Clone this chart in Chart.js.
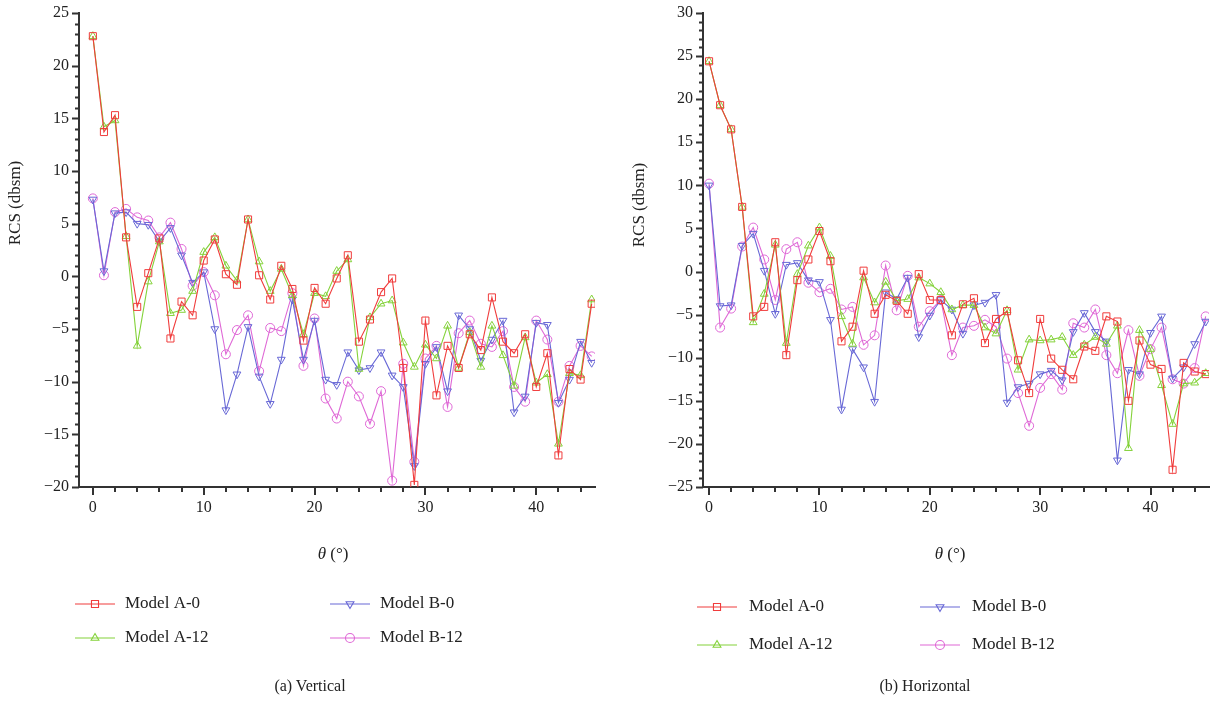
<!DOCTYPE html>
<html>
<head>
<meta charset="utf-8">
<script src="https://cdn.jsdelivr.net/npm/chart.js@4.4.1/dist/chart.umd.min.js"></script>
<style>
  body { margin: 0; background: #fff; width: 1229px; height: 701px; position: relative; overflow: hidden; font-family: "Liberation Serif", serif; }
  canvas { position: absolute; top: 0; }
  .cap { position: absolute; top: 677px; font-size: 16px; color: #222; transform: translateX(-50%); white-space: nowrap; }
</style>
</head>
<body>
<canvas id="vert" width="614" height="701" style="left:0"></canvas>
<canvas id="horiz" width="603" height="701" style="left:626px"></canvas>
<div class="cap" style="left:310px">(a) Vertical</div>
<div class="cap" style="left:925px">(b) Horizontal</div>

<script>
// incidence angle, degrees
const theta = [0, 1, 2, 3, 4, 5, 6, 7, 8, 9, 10, 11, 12, 13, 14, 15, 16, 17, 18, 19, 20, 21, 22,
  23, 24, 25, 26, 27, 28, 29, 30, 31, 32, 33, 34, 35, 36, 37, 38, 39, 40, 41, 42, 43, 44, 45];

// (a) vertical polarisation, RCS in dBsm
const vertA0 = [22.8, 13.7, 15.3, 3.7, -2.9, 0.3, 3.6, -5.9, -2.4, -3.7, 1.5, 3.5, 0.2, -0.8, 5.4, 0.1,
  -2.2, 1.0, -1.2, -6.1, -1.1, -2.6, -0.2, 2.0, -6.2, -4.1, -1.5, -0.2, -8.7, -19.8, -4.2, -11.3,
  -6.6, -8.7, -5.5, -7.0, -2.0, -6.2, -7.3, -5.5, -10.5, -7.3, -17.0, -8.8, -9.8, -2.6];
const vertA12 = [22.8, 14.2, 14.8, 3.8, -6.6, -0.5, 3.3, -3.5, -3.2, -1.4, 2.3, 3.7, 1.0, -0.4, 5.4, 1.4,
  -1.4, 0.7, -1.8, -5.5, -1.6, -1.9, 0.5, 1.6, -8.8, -3.9, -2.6, -2.3, -6.3, -8.6, -6.5, -7.8,
  -4.7, -8.7, -5.3, -8.6, -4.7, -7.5, -10.4, -5.8, -10.1, -9.3, -15.9, -9.2, -9.4, -2.2];
const vertB0 = [7.3, 0.5, 6.0, 6.1, 5.0, 4.9, 3.3, 4.6, 2.0, -0.6, 0.4, -5.0, -12.7, -9.3, -4.8, -9.5,
  -12.1, -7.9, -2.2, -7.9, -4.2, -9.8, -10.3, -7.2, -8.9, -8.7, -7.2, -9.4, -10.5, -18.0, -8.3, -6.7,
  -10.9, -3.7, -5.0, -8.0, -6.0, -4.2, -12.9, -11.4, -4.4, -4.6, -12.0, -9.8, -6.2, -8.2];
const vertB12 = [7.4, 0.1, 6.1, 6.4, 5.6, 5.3, 3.7, 5.1, 2.6, -0.9, 0.4, -1.8, -7.4, -5.1, -3.7, -9.0,
  -4.9, -5.2, -1.6, -8.5, -4.0, -11.6, -13.5, -10.0, -11.4, -14.0, -10.9, -19.4, -8.3, -17.6, -7.8, -6.6,
  -12.4, -5.4, -4.2, -6.4, -6.7, -5.2, -10.5, -11.9, -4.2, -6.0, -11.9, -8.5, -6.6, -7.6];

// (b) horizontal polarisation
const horA0 = [24.4, 19.3, 16.5, 7.5, -5.2, -4.1, 3.4, -9.7, -1.0, 1.4, 4.7, 1.2, -8.1, -6.4, 0.1, -4.9,
  -2.7, -3.4, -4.9, -0.3, -3.3, -3.3, -7.4, -3.8, -3.1, -8.3, -5.5, -4.6, -10.3, -14.1, -5.5, -10.1,
  -11.4, -12.5, -8.7, -9.2, -5.2, -5.8, -15.0, -8.0, -10.8, -11.3, -23.0, -10.6, -11.6, -11.9];
const horA12 = [24.4, 19.3, 16.5, 7.5, -5.9, -2.6, 3.1, -8.3, -0.3, 3.0, 5.1, 1.8, -5.2, -8.4, -0.7, -3.6,
  -1.2, -3.4, -3.2, -0.7, -1.4, -2.4, -4.4, -3.9, -3.9, -6.5, -7.2, -4.5, -11.4, -7.9, -8.0, -7.9,
  -7.6, -9.7, -8.5, -7.6, -8.4, -6.3, -20.5, -6.8, -9.0, -13.2, -17.7, -13.0, -12.9, -11.8];
const horB0 = [10.0, -4.0, -3.9, 3.0, 4.4, 0.1, -4.9, 0.8, 1.0, -1.0, -1.2, -5.6, -16.0, -9.0, -11.1, -15.1,
  -2.4, -3.2, -0.7, -7.6, -5.1, -3.3, -4.4, -7.2, -3.9, -3.6, -2.7, -15.2, -13.4, -13.0, -11.9, -11.5,
  -12.6, -7.0, -4.8, -7.0, -8.1, -21.9, -11.4, -11.9, -7.1, -5.2, -12.4, -11.1, -8.4, -5.8];
const horB12 = [10.2, -6.5, -4.3, 2.9, 5.1, 1.4, -3.3, 2.6, 3.4, -1.3, -2.4, -2.0, -4.4, -4.1, -8.5, -7.4,
  0.7, -4.5, -0.5, -6.4, -4.6, -3.3, -9.7, -6.5, -6.3, -5.6, -6.4, -10.1, -14.1, -17.9, -13.5, -11.9,
  -13.7, -6.0, -6.5, -4.4, -9.7, -11.8, -6.8, -12.1, -9.0, -6.5, -12.5, -13.0, -11.2, -5.2];

const seriesNames = ['Model A-0', 'Model A-12', 'Model B-0', 'Model B-12'];

const SERIF = '"Liberation Serif", "DejaVu Serif", serif';
const RED = '#f03c3c', GREEN = '#84d23a', BLUE = '#6868d6', PINK = '#df68d6';

const line = (label, values, color, style, rot, r) => ({
  label,
  data: values.map((v, i) => ({ x: theta[i], y: v })),
  borderColor: color,
  borderWidth: 1.1,
  pointStyle: style,
  pointRotation: rot,
  pointRadius: r,
  pointBorderColor: color,
  pointBorderWidth: 1,
  pointBackgroundColor: 'rgba(255,255,255,0)',
  backgroundColor: 'rgba(255,255,255,0)',
  tension: 0
});

const minus = v => (v < 0 ? '\u2212' + Math.abs(v) : '' + v);

// ticks with long majors / short minors, axis titles and the 2x2 legend
const deco = {
  id: 'deco',
  afterDraw(chart, args, o) {
    const { ctx, chartArea: a, scales: { x, y } } = chart;
    ctx.save();
    ctx.strokeStyle = '#333';
    ctx.lineWidth = 2;
    ctx.beginPath();
    x.ticks.forEach(t => {
      if (Math.abs(t.value % 2) > 1e-6) return;
      const p = Math.round(x.getPixelForValue(t.value));
      ctx.moveTo(p, a.bottom);
      ctx.lineTo(p, a.bottom + (t.value % 10 === 0 ? 8 : 5));
    });
    y.ticks.forEach(t => {
      if (Math.abs(t.value % 1) > 1e-6) return;
      const p = Math.round(y.getPixelForValue(t.value)) + 0.5;
      ctx.moveTo(a.left, p);
      ctx.lineTo(a.left - (t.value % 5 === 0 ? 7 : 4), p);
    });
    ctx.stroke();

    ctx.fillStyle = '#222';
    ctx.textBaseline = 'middle';

    // y title
    ctx.save();
    ctx.translate(o.yTitle[0], o.yTitle[1]);
    ctx.rotate(-Math.PI / 2);
    ctx.textAlign = 'center';
    ctx.font = '17px ' + SERIF;
    ctx.fillText('RCS (dbsm)', 0, 0);
    ctx.restore();

    // x title with italic theta
    ctx.font = 'italic 17px ' + SERIF;
    const w1 = ctx.measureText('θ').width;
    ctx.font = '17px ' + SERIF;
    const w2 = ctx.measureText(' (°)').width;
    const sx = o.xTitle[0] - (w1 + w2) / 2;
    ctx.font = 'italic 17px ' + SERIF;
    ctx.fillText('θ', sx, o.xTitle[1]);
    ctx.font = '17px ' + SERIF;
    ctx.fillText(' (°)', sx + w1, o.xTitle[1]);

    // legend
    chart.data.datasets.forEach((ds, i) => {
      const lx = o.cols[Math.floor(i / 2)];
      const ly = o.rows[i % 2];
      ctx.strokeStyle = ds.borderColor;
      ctx.lineWidth = 1.1;
      ctx.beginPath();
      ctx.moveTo(lx, ly);
      ctx.lineTo(lx + 40, ly);
      ctx.stroke();
      ctx.fillStyle = 'rgba(255,255,255,0)';
      Chart.helpers.drawPoint(ctx, {
        pointStyle: ds.pointStyle, rotation: ds.pointRotation,
        radius: ds.pointRadius, borderWidth: 1
      }, lx + 20, ly);
      ctx.fillStyle = '#222';
      ctx.font = '17px ' + SERIF;
      ctx.fillText(ds.label, lx + o.textGap, ly);
    });
    ctx.restore();
  }
};

function makeChart(id, values, yMin, yMax, xMin, xMax, yWidth, padRight, layout) {
  new Chart(document.getElementById(id), {
    type: 'line',
    data: {
      datasets: [
        line(seriesNames[0], values[0], RED, 'rect', 0, 5),
        line(seriesNames[1], values[1], GREEN, 'triangle', 0, 4.5),
        line(seriesNames[2], values[2], BLUE, 'triangle', 180, 4.5),
        line(seriesNames[3], values[3], PINK, 'circle', 0, 4.5)
      ]
    },
    options: {
      responsive: false,
      animation: false,
      events: [],
      layout: { padding: { left: 0, top: 13, right: padRight, bottom: 0 } },
      scales: {
        x: {
          type: 'linear',
          min: xMin,
          max: xMax,
          afterFit: s => { s.height = 214; },
          border: { display: true, color: '#333', width: 2 },
          grid: { display: true, drawOnChartArea: false, drawTicks: true, tickLength: 8, tickColor: 'rgba(0,0,0,0)' },
          ticks: {
            stepSize: 2, includeBounds: false, autoSkip: false, maxRotation: 0, padding: 3,
            color: '#222', font: { family: SERIF, size: 16 },
            callback: v => (v % 10 === 0 ? v : '')
          }
        },
        y: {
          min: yMin,
          max: yMax,
          afterFit: s => { s.width = yWidth; },
          border: { display: true, color: '#333', width: 2 },
          grid: { display: true, drawOnChartArea: false, drawTicks: true, tickLength: 7, tickColor: 'rgba(0,0,0,0)' },
          ticks: {
            stepSize: 1, includeBounds: false, autoSkip: false, padding: 3,
            color: '#222', font: { family: SERIF, size: 16 },
            callback: v => (v % 5 === 0 ? minus(v) : '')
          }
        }
      },
      plugins: {
        legend: { display: false },
        tooltip: { enabled: false },
        deco: layout
      }
    },
    plugins: [deco]
  });
}

makeChart('vert', [vertA0, vertA12, vertB0, vertB12], -20, 25, -1.25, 45.3, 79, 19,
  { yTitle: [16, 203], xTitle: [333, 555], cols: [75, 330], rows: [604, 638], textGap: 50 });
makeChart('horiz', [horA0, horA12, horB0, horB12], -25, 30, -0.55, 45.3, 77, 20,
  { yTitle: [14, 205], xTitle: [324, 555], cols: [71, 294], rows: [607, 645], textGap: 52 });
</script>
</body>
</html>
